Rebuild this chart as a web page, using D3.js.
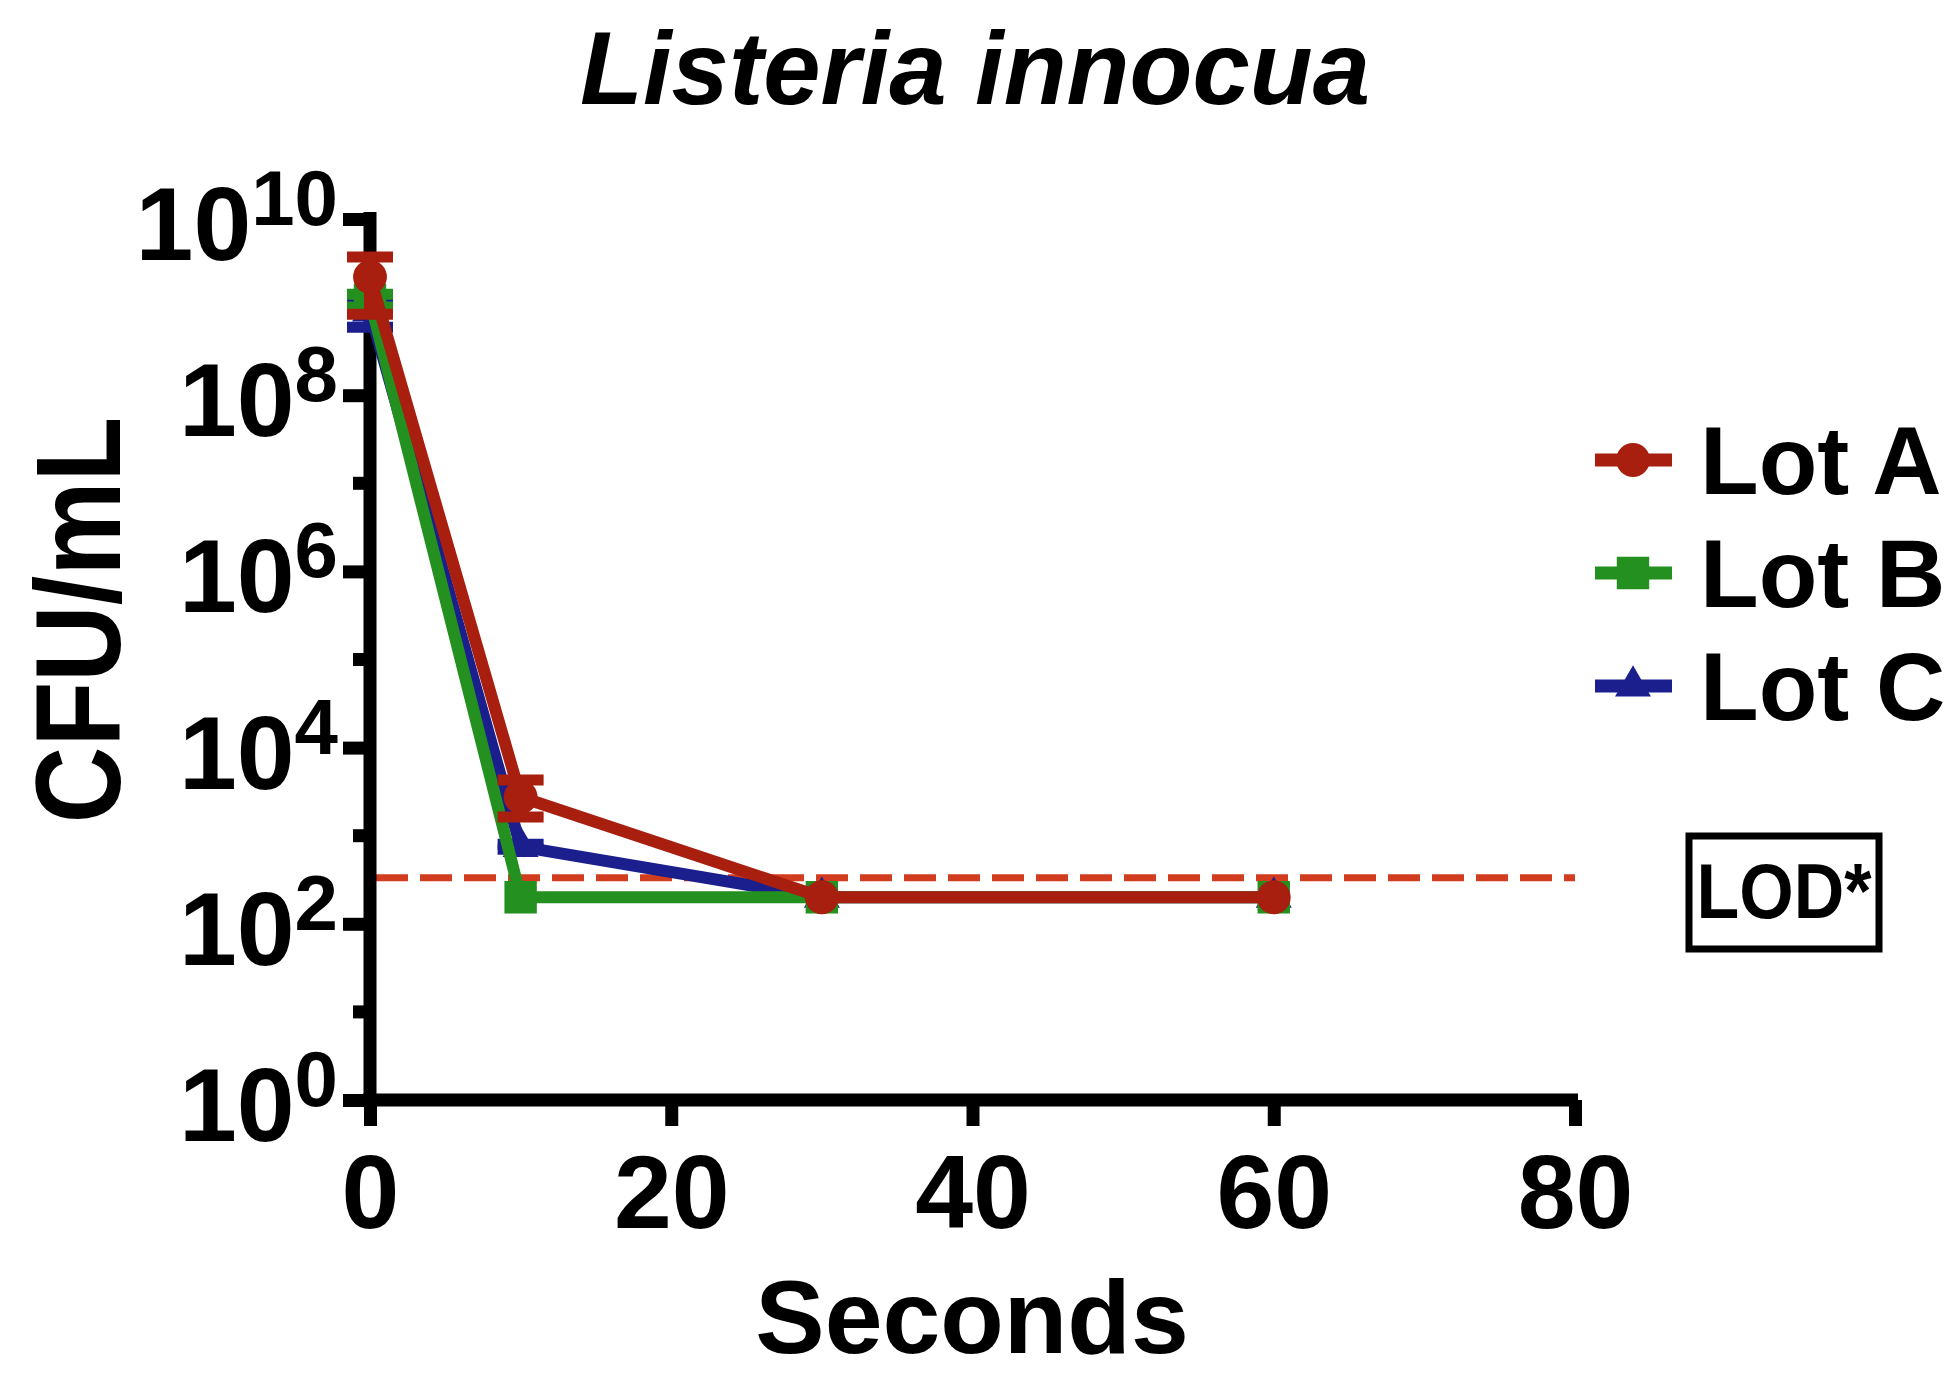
<!DOCTYPE html>
<html>
<head>
<meta charset="utf-8">
<script src="https://cdn.jsdelivr.net/npm/d3@7"></script>
<style>
  body { margin: 0; background: #fff; }
  text { font-family: "Liberation Sans", Arial, Helvetica, sans-serif; font-weight: bold; }
</style>
</head>
<body>
<div id="chart"></div>
<script>
// data (CFU/mL vs seconds)
const times = [0, 10, 30, 60];
const lotNames = ["Lot A", "Lot B", "Lot C"];
const lotA = [2.2e9, 2750, 200, 200];
const lotALow = [8.3e8, 1630, 200, 200];
const lotAHigh = [3.7e9, 4300, 200, 200];
const lotB = [1.2e9, 200, 200, 200];
const lotBLow = [1.0e9, 200, 200, 200];
const lotBHigh = [1.4e9, 200, 200, 200];
const lotC = [9e8, 750, 200, 200];
const lotCLow = [5.9e8, 700, 200, 200];
const lotCHigh = [1.3e9, 800, 200, 200];
const lod = 333;
const xTicks = [0, 20, 40, 60, 80];
const yMajor = [0, 2, 4, 6, 8, 10];
const yMinor = [1, 3, 5, 7, 9];

const width = 1956;
const height = 1377;

const colors = { "Lot A": "#a81e0f", "Lot B": "#23901f", "Lot C": "#1b1f8e" };
const symbols = { "Lot A": d3.symbolCircle, "Lot B": d3.symbolSquare, "Lot C": d3.symbolTriangle };
const symSize = { "Lot A": 900, "Lot B": 1050, "Lot C": 560 };

const series = [
  { name: "Lot C", values: lotC, low: lotCLow, high: lotCHigh },
  { name: "Lot B", values: lotB, low: lotBLow, high: lotBHigh },
  { name: "Lot A", values: lotA, low: lotALow, high: lotAHigh },
];

const svg = d3
  .select("#chart")
  .append("svg")
  .attr("width", width)
  .attr("height", height);

const x = d3.scaleLinear().domain([0, 80]).range([370, 1575]);
const y = d3.scaleLog().domain([1, 1e10]).range([1100, 219]);

const axisStroke = 13;

// title
svg
  .append("text")
  .attr("x", 975)
  .attr("y", 104)
  .attr("text-anchor", "middle")
  .style("font-style", "italic")
  .style("font-size", "103px")
  .text("Listeria innocua");

// LOD line (under the data)
svg
  .append("line")
  .attr("x1", x(0) + 6)
  .attr("x2", x(80))
  .attr("y1", y(lod))
  .attr("y2", y(lod))
  .attr("stroke", "#d23d1f")
  .attr("stroke-width", 7)
  .attr("stroke-dasharray", "32,12");

// x axis
const xAxis = svg
  .append("g")
  .attr("transform", `translate(0,${y(1)})`)
  .call(d3.axisBottom(x).tickValues(xTicks).tickSize(26).tickSizeOuter(0).tickPadding(0));
xAxis.select(".domain")
  .attr("d", `M${x(0) - 7},0H${x(80) + 3}`)
  .attr("stroke", "#000")
  .attr("stroke-width", axisStroke);
xAxis.selectAll(".tick line").attr("stroke-width", axisStroke);
xAxis
  .selectAll(".tick text")
  .attr("y", 128)
  .attr("dy", null)
  .attr("fill", "#000")
  .style("font-size", "104px")
  .style("font-family", "Liberation Sans, Arial, sans-serif")
  .style("font-weight", "bold");

// y axis
const yAxis = svg
  .append("g")
  .attr("transform", `translate(${x(0)},0)`)
  .call(
    d3.axisLeft(y)
      .tickValues(yMajor.map((e) => Math.pow(10, e)))
      .tickFormat("")
      .tickSize(27)
      .tickSizeOuter(0)
  );
yAxis.select(".domain")
  .attr("d", `M0,${y(1e10) - 7}V${y(1) + 6}`)
  .attr("stroke", "#000")
  .attr("stroke-width", axisStroke);
yAxis.selectAll(".tick line").attr("stroke-width", axisStroke);

// minor ticks
yAxis
  .selectAll(".minor")
  .data(yMinor)
  .enter()
  .append("line")
  .attr("class", "minor")
  .attr("x1", -17)
  .attr("x2", 0)
  .attr("y1", (e) => y(Math.pow(10, e)))
  .attr("y2", (e) => y(Math.pow(10, e)))
  .attr("stroke", "#000")
  .attr("stroke-width", axisStroke);

// y tick labels 10^n
const yLab = svg
  .append("g")
  .selectAll("text")
  .data(yMajor)
  .enter()
  .append("text")
  .attr("x", 338)
  .attr("y", (e) => y(Math.pow(10, e)) + 41)
  .attr("text-anchor", "end");
yLab.append("tspan").style("font-size", "104px").text("10");
yLab
  .append("tspan")
  .attr("dy", -35)
  .style("font-size", "78px")
  .text((e) => e);

// axis titles
svg
  .append("text")
  .attr("x", 972)
  .attr("y", 1353)
  .attr("text-anchor", "middle")
  .style("font-size", "104px")
  .text("Seconds");

svg
  .append("text")
  .attr("transform", "translate(120,620) rotate(-90) scale(1,1.13)")
  .attr("text-anchor", "middle")
  .style("font-size", "106px")
  .text("CFU/mL");

// data
const line = d3
  .line()
  .x((d) => x(d.t))
  .y((d) => y(d.v));

const lots = svg
  .append("g")
  .selectAll("g")
  .data(series)
  .enter()
  .append("g");

lots.each(function (s) {
  const g = d3.select(this);
  const pts = times.map((t, i) => ({ t, v: s.values[i], lo: s.low[i], hi: s.high[i] }));
  const c = colors[s.name];

  g.append("path")
    .attr("d", line(pts))
    .attr("fill", "none")
    .attr("stroke", c)
    .attr("stroke-width", 12)
    .attr("stroke-linejoin", "round");

  // error bars
  const eb = g.selectAll(".err").data(pts.filter((d) => d.hi > d.lo)).enter().append("g");
  eb.append("line")
    .attr("x1", (d) => x(d.t))
    .attr("x2", (d) => x(d.t))
    .attr("y1", (d) => y(d.lo))
    .attr("y2", (d) => y(d.hi))
    .attr("stroke", c)
    .attr("stroke-width", 12);
  ["lo", "hi"].forEach((k) => {
    eb.append("line")
      .attr("x1", (d) => x(d.t) - 23)
      .attr("x2", (d) => x(d.t) + 23)
      .attr("y1", (d) => y(d[k]))
      .attr("y2", (d) => y(d[k]))
      .attr("stroke", c)
      .attr("stroke-width", 11);
  });

  g.selectAll(".pt")
    .data(pts)
    .enter()
    .append("path")
    .attr("transform", (d) => `translate(${x(d.t)},${y(d.v)})`)
    .attr("d", d3.symbol().type(symbols[s.name]).size(symSize[s.name]))
    .attr("fill", c);
});

// legend
const legend = svg
  .append("g")
  .selectAll("g")
  .data(lotNames)
  .enter()
  .append("g")
  .attr("transform", (d, i) => `translate(1595,${460 + i * 113})`);

legend
  .append("line")
  .attr("x1", 0)
  .attr("x2", 77)
  .attr("stroke", (d) => colors[d])
  .attr("stroke-width", 13);
legend
  .append("path")
  .attr("transform", "translate(38,0)")
  .attr("d", (d) => d3.symbol().type(symbols[d]).size(symSize[d])())
  .attr("fill", (d) => colors[d]);
legend
  .append("text")
  .attr("x", 105)
  .attr("y", 34)
  .style("font-size", "96px")
  .text((d) => d);

// LOD box
svg
  .append("rect")
  .attr("x", 1689)
  .attr("y", 836)
  .attr("width", 190)
  .attr("height", 113)
  .attr("fill", "#fff")
  .attr("stroke", "#000")
  .attr("stroke-width", 7);
svg
  .append("text")
  .attr("x", 1784)
  .attr("y", 918)
  .attr("text-anchor", "middle")
  .style("font-size", "70px")
  .attr("transform", "translate(1784,918) scale(1,1.12) translate(-1784,-918)")
  .text("LOD*");
</script>
</body>
</html>
